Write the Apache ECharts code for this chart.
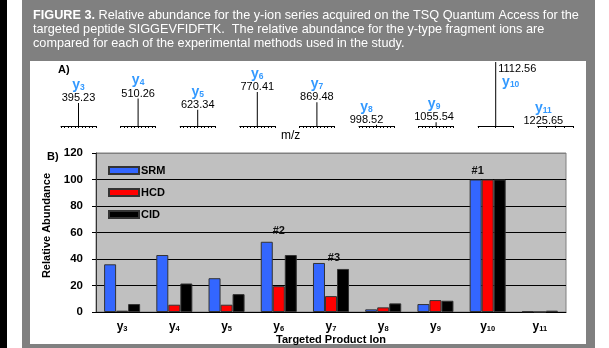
<!DOCTYPE html>
<html>
<head>
<meta charset="utf-8">
<script src="https://cdn.jsdelivr.net/npm/echarts@6/dist/echarts.min.js"></script>
<style>
  body { margin: 0; background: #fff; }
  #wrap { position: relative; width: 609px; height: 348px; background: #fff; }
  .blk { position: absolute; }
</style>
</head>
<body>
<div id="wrap">
  <div class="blk" style="left:0;top:0;width:7px;height:348px;background:#000"></div>
  <div class="blk" style="left:22px;top:0;width:573px;height:348px;background:#808080"></div>
  <div class="blk" style="left:30px;top:61px;width:556px;height:283px;background:#fff"></div>
  <div class="blk" id="chart" style="left:0;top:0;width:609px;height:348px"></div>
</div>
<script>
// y-ion series, SIGGEVFIDFTK
const ionNumbers = ['3', '4', '5', '6', '7', '8', '9', '10', '11']
const mzValues = ['395.23', '510.26', '623.34', '770.41', '869.48', '998.52', '1055.54', '1112.56', '1225.65']
const srm = [36, 43, 25.5, 53, 37, 2, 6, 100, 0.5]
const hcd = [1, 5.5, 5.5, 19.5, 12, 3.5, 9, 100, 0]
const cid = [6, 21.5, 13.5, 43, 32.5, 6.5, 8.5, 100, 1]
const rankLabels = ['', '', '', '#2', '#3', '', '', '#1', '']
const yTicks = [0, 20, 40, 60, 80, 100, 120]

const FONT = 'Liberation Sans, Arial, sans-serif'
const ION_BLUE = '#3399ff'

const chart = echarts.init(document.getElementById('chart'))

// panel B main grid + 9 mini grids for the stick spectrum in panel A
const grids = [{ left: 96, top: 153, width: 470, height: 159, show: true, backgroundColor: '#c0c0c0', borderColor: '#808080', borderWidth: 1 }]
const xAxes = [{
    type: 'category',
    data: ionNumbers.map(n => 'y' + n),
    axisLine: { lineStyle: { color: '#000' } },
    axisTick: { length: 3, lineStyle: { color: '#000' } },
    axisLabel: {
        interval: 0,
        margin: 9,
        formatter: (v, i) => '{b|y}{s|' + ionNumbers[i] + '}',
        rich: {
            b: { fontWeight: 'bold', fontSize: 12, color: '#000', fontFamily: FONT },
            s: { fontWeight: 'bold', fontSize: 7.5, color: '#000', verticalAlign: 'bottom', fontFamily: FONT }
        }
    },
    name: 'Targeted Product Ion',
    nameLocation: 'middle',
    nameGap: 22,
    nameTextStyle: { fontWeight: 'bold', fontSize: 11, color: '#000' }
}]
const yAxes = [{
    type: 'value',
    min: yTicks[0],
    max: yTicks[yTicks.length - 1],
    interval: yTicks[1] - yTicks[0],
    axisLine: { show: true, lineStyle: { color: '#333' } },
    axisTick: { show: true, length: 4, lineStyle: { color: '#000' } },
    axisLabel: { margin: 13, fontWeight: 'bold', fontSize: 11.5, color: '#000' },
    splitLine: { lineStyle: { color: ['#000', '#000', '#000', '#000', '#000', '#000', '#808080'] } },
    name: 'Relative Abundance',
    nameLocation: 'middle',
    nameGap: 43,
    nameTextStyle: { fontWeight: 'bold', fontSize: 11, color: '#000', padding: [0, 0, 0, 14] }
}]

const stickSeries = []
const tickStep = [0.1, 0.1, 0.1, 0.1, 0.1, 0.1, 0.1, 0.5, 0.25]
const labelShift = [0, 0, 0, 0, 0, -10, -2, 0, -12]
ionNumbers.forEach((n, i) => {
    const gi = i + 1
    grids.push({ left: 61 + i * 59.6, top: 62, width: 35, height: 64 })
    xAxes.push({
        gridIndex: gi, type: 'value', min: 0, max: 1, interval: tickStep[i],
        axisLine: { lineStyle: { color: '#000' } },
        axisTick: { length: 2, lineStyle: { color: '#000' } },
        axisLabel: { show: false }, splitLine: { show: false }
    })
    yAxes.push({ gridIndex: gi, min: 0, max: 100, show: false })
    const top = i === 7
    stickSeries.push({
        type: 'bar',
        xAxisIndex: gi,
        yAxisIndex: gi,
        barWidth: 1,
        silent: true,
        itemStyle: { color: '#000' },
        data: [[0.5, srm[i]]],
        label: {
            show: true,
            position: top ? [3, 1] : 'top',
            distance: -1,
            offset: [labelShift[i], 0],
            align: top ? 'left' : 'center',
            verticalAlign: top ? 'top' : 'bottom',
            formatter: top
                ? '{m|' + mzValues[i] + '}\n{y| y}{s|' + n + '}'
                : '{y|y}{s|' + n + '}\n{m|' + mzValues[i] + '}',
            rich: {
                y: { color: ION_BLUE, fontWeight: 'bold', fontSize: 14, lineHeight: 14, fontFamily: FONT },
                s: { color: ION_BLUE, fontWeight: 'bold', fontSize: 8.5, lineHeight: 14, verticalAlign: 'bottom', fontFamily: FONT },
                m: { color: '#000', fontSize: 11, lineHeight: 12, fontFamily: FONT }
            }
        }
    })
})

const rankOffset = { '#1': [2, 0], '#2': [12, -2], '#3': [15, 3] }
const barStyle = c => ({ color: c, borderColor: '#333', borderWidth: 1 })

const option = {
    animation: false,
    textStyle: { fontFamily: FONT },
    title: [
        {
            text: '{b|FIGURE 3.} Relative abundance for the y-ion series acquired on the TSQ Quantum Access for the\ntargeted peptide SIGGEVFIDFTK.  The relative abundance for the y-type fragment ions are\ncompared for each of the experimental methods used in the study.',
            left: 33, top: 9, padding: 0,
            textStyle: {
                color: '#fff', fontSize: 12.7, fontWeight: 'normal', lineHeight: 13.7, fontFamily: FONT,
                rich: { b: { color: '#fff', fontSize: 12.7, fontWeight: 'bold', lineHeight: 13.7, fontFamily: FONT } }
            }
        },
        { text: 'A)', left: 58, top: 64, padding: 0, textStyle: { fontSize: 11, fontWeight: 'bold', color: '#000', fontFamily: FONT } },
        { text: 'm/z', left: 281, top: 130, padding: 0, textStyle: { fontSize: 12, fontWeight: 'normal', color: '#000', fontFamily: FONT } },
        { text: 'B)', left: 47, top: 151, padding: 0, textStyle: { fontSize: 11, fontWeight: 'bold', color: '#000', fontFamily: FONT } }
    ],
    legend: {
        orient: 'vertical',
        left: 108,
        top: 165,
        padding: 0,
        itemWidth: 30,
        itemHeight: 7,
        itemGap: 11,
        icon: 'rect',
        data: ['SRM', 'HCD', 'CID'],
        textStyle: { fontWeight: 'bold', fontSize: 11, color: '#000', padding: [0, 0, 0, -3] }
    },
    grid: grids,
    xAxis: xAxes,
    yAxis: yAxes,
    series: [
        {
            name: 'SRM', type: 'bar', barGap: 0, barCategoryGap: '31%',
            itemStyle: barStyle('#3366ff'),
            data: srm.map((v, i) => rankLabels[i] ? {
                value: v,
                label: {
                    show: true, position: 'top', distance: 3, offset: rankOffset[rankLabels[i]],
                    formatter: rankLabels[i], fontWeight: 'bold', fontSize: 11, color: '#111'
                }
            } : v)
        },
        { name: 'HCD', type: 'bar', barGap: 0, barCategoryGap: '31%', itemStyle: barStyle('#ff0000'), data: hcd },
        { name: 'CID', type: 'bar', barGap: 0, barCategoryGap: '31%', itemStyle: barStyle('#000000'), data: cid }
    ].concat(stickSeries)
}

chart.setOption(option)
</script>
</body>
</html>
